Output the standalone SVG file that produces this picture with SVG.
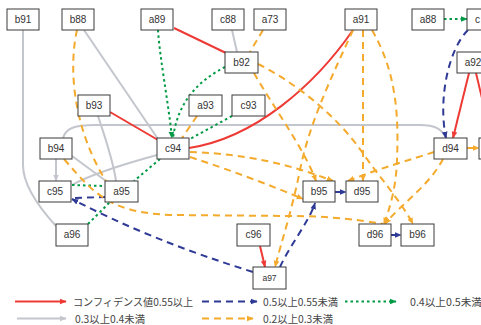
<svg xmlns="http://www.w3.org/2000/svg" width="481" height="325" viewBox="0 0 481 325">
<style>
.n rect{fill:#fff;stroke:#3a3a3a;stroke-width:1}
.n text{font-family:"Liberation Sans",Arial,sans-serif;font-size:10px;fill:#333;text-anchor:middle}
.e path{fill:none;stroke-width:2}
.r{stroke:#ee3a35}
.g{stroke:#c3c6cc}
.b{stroke:#2f3a96;stroke-dasharray:7 5}
.gr{stroke:#009a44;stroke-dasharray:2.5 3}
.o{stroke:#f4aa2c;stroke-dasharray:7 5}
.lg{font-family:"Noto Sans CJK JP","Liberation Sans",sans-serif;font-size:10.5px;fill:#444}
</style>
<defs>
<marker id="mr" viewBox="0 0 10 10" refX="9" refY="5" markerWidth="7" markerHeight="7" markerUnits="userSpaceOnUse" orient="auto"><path d="M0,1L10,5L0,9z" fill="#ee3a35"/></marker>
<marker id="mg" viewBox="0 0 10 10" refX="9" refY="5" markerWidth="7" markerHeight="7" markerUnits="userSpaceOnUse" orient="auto"><path d="M0,1L10,5L0,9z" fill="#c3c6cc"/></marker>
<marker id="mb" viewBox="0 0 10 10" refX="9" refY="5" markerWidth="7" markerHeight="7" markerUnits="userSpaceOnUse" orient="auto"><path d="M0,1L10,5L0,9z" fill="#2f3a96"/></marker>
<marker id="mgr" viewBox="0 0 10 10" refX="9" refY="5" markerWidth="7" markerHeight="7" markerUnits="userSpaceOnUse" orient="auto"><path d="M0,1L10,5L0,9z" fill="#009a44"/></marker>
<marker id="mo" viewBox="0 0 10 10" refX="9" refY="5" markerWidth="7" markerHeight="7" markerUnits="userSpaceOnUse" orient="auto"><path d="M0,1L10,5L0,9z" fill="#f4aa2c"/></marker>
</defs>
<rect width="481" height="325" fill="#fff"/>
<g id="connectors" class="e">
<path class="g" d="M23,30 L23,165 Q23,190 56,226"/>
<path class="g" d="M84,30 L158,139"/>
<path class="g" d="M232,30 L237,52"/>
<path class="g" d="M98,116 C106,140 113,160 116,181"/>
<path class="g" d="M56,159 L56,181" marker-end="url(#mg)"/>
<path class="g" d="M72,156 L106,181"/>
<path class="g" d="M72,185 Q95,172 157,155"/>
<path class="g" d="M63,138 C66,128 75,125 95,125 L420,125 C435,125 442,129 446,138"/>
<path class="r" d="M174,28 L226,53"/>
<path class="r" d="M110,112 L158,140"/>
<path class="r" d="M189,148 C255,138 315,85 353,30"/>
<path class="r" d="M469,73 L453,138" marker-end="url(#mr)"/>
<path class="r" d="M476,73 L492,140"/>
<path class="r" d="M260,246 L265,267" marker-end="url(#mr)"/>
<path class="b" d="M468,30 C448,50 438,100 446,138" marker-end="url(#mb)"/>
<path class="b" d="M335,192 L346,192" marker-end="url(#mb)"/>
<path class="b" d="M391,235 L401,235" marker-end="url(#mb)"/>
<path class="b" d="M253,272 Q150,240 72,199" marker-end="url(#mb)"/>
<path class="b" d="M106,197 L74,198"/>
<path class="b" d="M280,267 C290,245 310,220 315,203" marker-end="url(#mb)"/>
<path class="gr" d="M444,19 L467,19" marker-end="url(#mgr)"/>
<path class="gr" d="M158,30 C160,60 168,100 172,138" marker-end="url(#mgr)"/>
<path class="gr" d="M225,67 C200,80 178,100 173,138"/>
<path class="gr" d="M232,116 L190,139"/>
<path class="gr" d="M160,159 L134,181"/>
<path class="gr" d="M72,185 L105,186"/>
<path class="gr" d="M88,224 L110,202"/>
<path class="o" d="M77,30 C68,70 74,130 106,181"/>
<path class="o" d="M64,159 C95,195 110,212 170,215 L290,216 C330,216 360,220 383,224"/>
<path class="o" d="M263,30 L250,52"/>
<path class="o" d="M258,64 C300,85 340,120 362,152 C380,178 400,200 413,224" marker-end="url(#mo)"/>
<path class="o" d="M254,73 C272,105 305,150 316,181" marker-end="url(#mo)"/>
<path class="o" d="M353,30 C335,70 310,120 300,170 C292,210 282,240 275,267" marker-end="url(#mo)"/>
<path class="o" d="M363,30 L363,181" marker-end="url(#mo)"/>
<path class="o" d="M372,30 C395,70 399,110 397,160 C396,190 389,210 384,224" marker-end="url(#mo)"/>
<path class="o" d="M190,152 C230,153 280,160 333,181" marker-end="url(#mo)"/>
<path class="o" d="M190,157 C230,170 270,185 303,199" marker-end="url(#mo)"/>
<path class="o" d="M434,152 C410,160 380,168 348,181" marker-end="url(#mo)"/>
<path class="o" d="M443,159 C430,185 400,205 385,224" marker-end="url(#mo)"/>
<path class="o" d="M467,148 L479,148" marker-end="url(#mo)"/>
<path class="o" d="M197,116 L182,138"/>
</g>
<g id="b91" class="n"><rect x="7" y="9" width="32" height="21"/><text x="23" y="23">b91</text></g>
<g id="b88" class="n"><rect x="62" y="9" width="32" height="21"/><text x="78" y="23">b88</text></g>
<g id="a89" class="n"><rect x="141" y="9" width="32" height="21"/><text x="157" y="23">a89</text></g>
<g id="c88" class="n"><rect x="212" y="9" width="32" height="21"/><text x="228" y="23">c88</text></g>
<g id="a73" class="n"><rect x="254" y="9" width="32" height="21"/><text x="270" y="23">a73</text></g>
<g id="a91" class="n"><rect x="345" y="9" width="32" height="21"/><text x="361" y="23">a91</text></g>
<g id="a88" class="n"><rect x="412" y="9" width="32" height="21"/><text x="428" y="23">a88</text></g>
<g id="c-top" class="n"><rect x="467" y="9" width="32" height="21"/><text x="475" y="23" style="text-anchor:start">c</text></g>
<g id="b92" class="n"><rect x="225" y="52" width="33" height="21"/><text x="241.5" y="66">b92</text></g>
<g id="a92" class="n"><rect x="457" y="52" width="32" height="21"/><text x="473" y="66">a92</text></g>
<g id="b93" class="n"><rect x="78" y="95" width="32" height="21"/><text x="94" y="109">b93</text></g>
<g id="a93" class="n"><rect x="189" y="95" width="33" height="21"/><text x="205.5" y="109">a93</text></g>
<g id="c93" class="n"><rect x="232" y="95" width="33" height="21"/><text x="248.5" y="109">c93</text></g>
<g id="b94" class="n"><rect x="40" y="138" width="32" height="21"/><text x="56" y="152">b94</text></g>
<g id="c94" class="n"><rect x="157" y="138" width="32" height="21"/><text x="173" y="152">c94</text></g>
<g id="d94" class="n"><rect x="434" y="138" width="33" height="21"/><text x="450.5" y="152">d94</text></g>
<g id="right-node" class="n"><rect x="479" y="138" width="32" height="21"/></g>
<g id="c95" class="n"><rect x="39" y="181" width="32" height="21"/><text x="55" y="195">c95</text></g>
<g id="a95" class="n"><rect x="105" y="181" width="33" height="21"/><text x="121.5" y="195">a95</text></g>
<g id="b95" class="n"><rect x="303" y="181" width="32" height="21"/><text x="319" y="195">b95</text></g>
<g id="d95" class="n"><rect x="346" y="181" width="32" height="21"/><text x="362" y="195">d95</text></g>
<g id="a96" class="n"><rect x="56" y="224" width="32" height="22"/><text x="72" y="238">a96</text></g>
<g id="c96" class="n"><rect x="237" y="224" width="33" height="22"/><text x="253.5" y="238">c96</text></g>
<g id="d96" class="n"><rect x="359" y="224" width="32" height="22"/><text x="375" y="238">d96</text></g>
<g id="b96" class="n"><rect x="401" y="224" width="33" height="22"/><text x="417.5" y="238">b96</text></g>
<g id="a97" class="n"><rect x="253" y="267" width="33" height="22"/><text x="269.5" y="281" style="font-size:8.5px">a97</text></g>
<g id="legend">
<path class="r" d="M15,301.5 L66,301.5" stroke-width="2" fill="none" marker-end="url(#mr)"/>
<text class="lg" x="73" y="305.5" textLength="120" lengthAdjust="spacingAndGlyphs">コンフィデンス値0.55以上</text>
<path class="b" d="M202,301.5 L257,301.5" stroke-width="2" fill="none" marker-end="url(#mb)"/>
<text class="lg" x="263" y="305.5" textLength="75" lengthAdjust="spacingAndGlyphs">0.5以上0.55未満</text>
<path class="gr" d="M345,301.5 L396,301.5" stroke-width="2" fill="none" marker-end="url(#mgr)"/>
<text class="lg" x="410" y="305.5" textLength="72" lengthAdjust="spacingAndGlyphs">0.4以上0.5未満</text>
<path class="g" d="M17,318.5 L66,318.5" stroke-width="2" fill="none" marker-end="url(#mg)"/>
<text class="lg" x="75" y="322.5" textLength="70" lengthAdjust="spacingAndGlyphs">0.3以上0.4未満</text>
<path class="o" d="M202,318.5 L253,318.5" stroke-width="2" fill="none" marker-end="url(#mo)"/>
<text class="lg" x="263" y="322.5" textLength="70" lengthAdjust="spacingAndGlyphs">0.2以上0.3未満</text>
</g>
</svg>
